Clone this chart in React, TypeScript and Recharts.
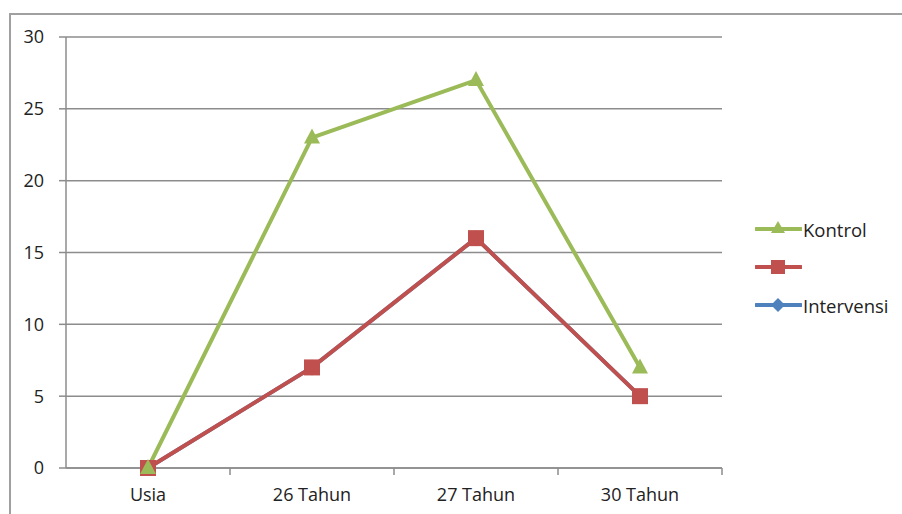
import React from 'react';
import { LineChart, Line, XAxis, YAxis, CartesianGrid } from 'recharts';

const categories = ['Usia', '26 Tahun', '27 Tahun', '30 Tahun'];
const kontrol = [0, 23, 27, 7];
const seri2 = [0, 7, 16, 5];
const intervensi = [0, 7, 16, 5];
const yTicks = [0, 5, 10, 15, 20, 25, 30];

const GREEN = '#9BBB59';
const RED = '#C0504D';
const BLUE = '#4F81BD';
const AXIS = '#8c8c8c';
const FONT = '"Open Sans", "DejaVu Sans", sans-serif';
const HALF_BAND = 82;

const data = categories.map((c, i) => ({
  cat: c,
  kontrol: kontrol[i],
  seri2: seri2[i],
  intervensi: intervensi[i],
}));

const Triangle = (props: any) => {
  const { cx, cy } = props;
  if (cx == null || cy == null) return null;
  return <polygon points={`${cx},${cy - 9} ${cx - 8},${cy + 6} ${cx + 8},${cy + 6}`} fill={GREEN} />;
};
const Square = (props: any) => {
  const { cx, cy } = props;
  if (cx == null || cy == null) return null;
  return <rect x={cx - 8} y={cy - 8} width={16} height={16} fill={RED} />;
};
const Diamond = (props: any) => {
  const { cx, cy } = props;
  if (cx == null || cy == null) return null;
  return <polygon points={`${cx},${cy - 8} ${cx + 8},${cy} ${cx},${cy + 8} ${cx - 8},${cy}`} fill={BLUE} />;
};

// category label plus Excel-style tick marks between categories
const CatTick = (props: any) => {
  const { x, y, payload, index } = props;
  const axisY = y - 20;
  return (
    <g>
      {index > 0 && (
        <line x1={x - HALF_BAND} y1={axisY} x2={x - HALF_BAND} y2={axisY + 7} stroke={AXIS} strokeWidth={1.5} />
      )}
      {index === categories.length - 1 && (
        <line x1={x + HALF_BAND} y1={axisY} x2={x + HALF_BAND} y2={axisY + 7} stroke={AXIS} strokeWidth={1.5} />
      )}
      <text x={x} y={y} dy="0.71em" textAnchor="middle" fill="#222" fontSize={18} fontFamily={FONT}>
        {payload.value}
      </text>
    </g>
  );
};

const legendItems = [
  { label: 'Kontrol', color: GREEN, shape: 'tri' },
  { label: '', color: RED, shape: 'sq' },
  { label: 'Intervensi', color: BLUE, shape: 'dia' },
];

const LegendBox = () => (
  <div style={{ position: 'absolute', left: 755, top: 210, fontFamily: FONT, fontSize: 18.5, color: '#222' }}>
    {legendItems.map((it) => (
      <div key={it.shape} style={{ display: 'flex', alignItems: 'center', height: 38 }}>
        <svg width={47} height={20}>
          <line x1={1} y1={10} x2={46} y2={10} stroke={it.color} strokeWidth={4} strokeLinecap="round" />
          {it.shape === 'tri' && <polygon points="23,2 16,14 30,14" fill={it.color} />}
          {it.shape === 'sq' && <rect x={16} y={3} width={14} height={14} fill={it.color} />}
          {it.shape === 'dia' && <polygon points="23,3 30,10 23,17 16,10" fill={it.color} />}
        </svg>
        <span style={{ marginLeft: 1 }}>{it.label}</span>
      </div>
    ))}
  </div>
);

export default function App() {
  return (
    <div style={{ position: 'absolute', left: 0, top: 0, width: 902, height: 514, background: '#fff', overflow: 'hidden' }}>
      <div
        style={{
          position: 'absolute',
          left: 9,
          top: 13,
          width: 900,
          height: 510,
          borderTop: '2px solid #a0a0a0',
          borderLeft: '2px solid #a0a0a0',
        }}
      />
      <div style={{ position: 'absolute', left: 0, top: 0 }}>
        <LineChart width={902} height={514} data={data} margin={{ top: 37, right: 180, bottom: 16, left: 0 }}>
          <CartesianGrid vertical={false} stroke={AXIS} strokeWidth={1.5} />
          <XAxis
            dataKey="cat"
            padding={{ left: HALF_BAND, right: HALF_BAND }}
            axisLine={{ stroke: AXIS, strokeWidth: 1.5 }}
            tickLine={false}
            tickSize={0}
            tickMargin={20}
            height={30}
            interval={0}
            tick={<CatTick />}
          />
          <YAxis
            width={66}
            domain={[0, 30]}
            ticks={yTicks}
            interval={0}
            axisLine={{ stroke: AXIS, strokeWidth: 1.5 }}
            tickLine={{ stroke: AXIS, strokeWidth: 1.5 }}
            tickSize={7}
            tickMargin={15}
            tick={{ fill: '#222', fontSize: 18, fontFamily: FONT }}
          />
          <Line
            type="linear"
            dataKey="intervensi"
            name="Intervensi"
            stroke={BLUE}
            strokeWidth={4}
            dot={<Diamond />}
            activeDot={false}
            isAnimationActive={false}
          />
          <Line
            type="linear"
            dataKey="seri2"
            name=""
            stroke={RED}
            strokeWidth={4}
            dot={<Square />}
            activeDot={false}
            isAnimationActive={false}
          />
          <Line
            type="linear"
            dataKey="kontrol"
            name="Kontrol"
            stroke={GREEN}
            strokeWidth={4}
            dot={<Triangle />}
            activeDot={false}
            isAnimationActive={false}
          />
        </LineChart>
      </div>
      <LegendBox />
    </div>
  );
}
